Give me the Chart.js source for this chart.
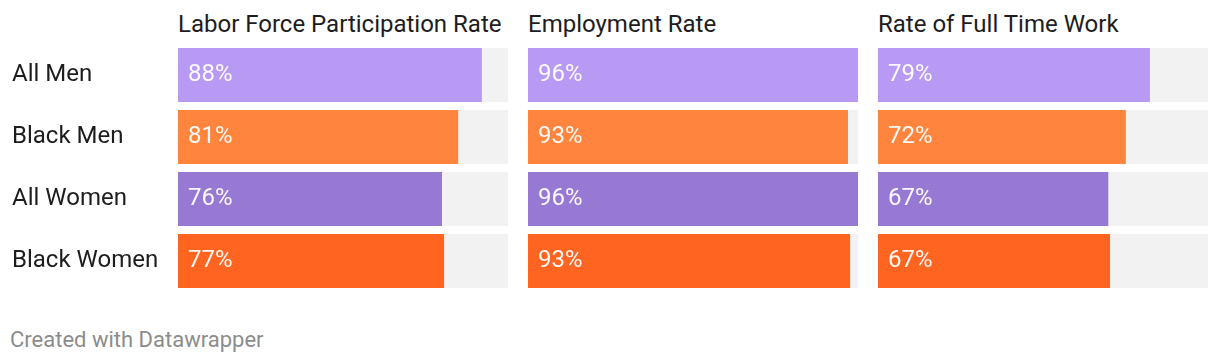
<!DOCTYPE html>
<html>
<head>
<meta charset="utf-8">
<script src="https://cdn.jsdelivr.net/npm/chart.js@4.4.1/dist/chart.umd.min.js"></script>
<style>
  html, body { margin: 0; padding: 0; background: #fff; }
  body { width: 1220px; height: 364px; position: relative; overflow: hidden; font-family: Roboto, "Noto Sans", sans-serif; }
  .title { position: absolute; top: 10px; font-size: 24px; line-height: 28px; color: #1d1d1d; white-space: nowrap; }
  .box { position: absolute; top: 44px; height: 248px; }
  .footer { position: absolute; left: 10px; top: 327px; font-size: 22px; line-height: 26px; color: #8c8c8c; white-space: nowrap; }
</style>
</head>
<body>
<div id="t0" class="title" style="left:178px"></div>
<div id="t1" class="title" style="left:528px"></div>
<div id="t2" class="title" style="left:878px"></div>
<div class="box" style="left:0px;width:508px"><canvas id="c0"></canvas></div>
<div class="box" style="left:528px;width:330px"><canvas id="c1"></canvas></div>
<div class="box" style="left:878px;width:330px"><canvas id="c2"></canvas></div>
<div class="footer">Created with Datawrapper</div>
<script>
const categories = ['All Men', 'Black Men', 'All Women', 'Black Women'];
const panelTitles = ['Labor Force Participation Rate', 'Employment Rate', 'Rate of Full Time Work'];
const laborForce = [88.4, 81.5, 76.8, 77.4];
const employment = [96.0, 93.1, 96.0, 93.7];
const fullTime = [79.1, 72.1, 67.0, 67.5];
const scaleMax = 96;
const track = [scaleMax, scaleMax, scaleMax, scaleMax];
const rowColors = ['#b89af5', '#ff853f', '#9779d3', '#ff6420'];
const trackColor = '#f2f2f2';
const FONT = 'Roboto, "Noto Sans", sans-serif';

const panels = [laborForce, employment, fullTime];

const valueLabels = {
  id: 'valueLabels',
  afterDatasetsDraw(chart) {
    const ctx = chart.ctx;
    const meta = chart.getDatasetMeta(1);
    const data = chart.data.datasets[1].data;
    ctx.save();
    ctx.font = '24px ' + FONT;
    ctx.fillStyle = 'rgba(255,255,255,0.95)';
    ctx.textAlign = 'left';
    ctx.textBaseline = 'middle';
    meta.data.forEach((bar, i) => {
      ctx.fillText(Math.floor(data[i]) + '%', bar.base + 10, bar.y);
    });
    ctx.restore();
  }
};

panels.forEach((vals, p) => {
  document.getElementById('t' + p).textContent = panelTitles[p];
  const first = p === 0;
  const yScale = {
    display: first,
    grid: { display: false },
    border: { display: false },
    ticks: {
      crossAlign: 'far',
      padding: 0,
      color: '#1d1d1d',
      font: { family: FONT, size: 24 }
    }
  };
  if (first) {
    yScale.afterFit = (s) => { s.width = 166; s.paddingTop = 0; s.paddingBottom = 0; };
  }
  new Chart(document.getElementById('c' + p), {
    type: 'bar',
    data: {
      labels: categories,
      datasets: [
        { data: track, backgroundColor: trackColor, order: 2, grouped: false,
          barPercentage: 1, categoryPercentage: 54 / 62 },
        { data: vals, backgroundColor: rowColors, order: 1, grouped: false,
          barPercentage: 1, categoryPercentage: 54 / 62 }
      ]
    },
    options: {
      indexAxis: 'y',
      responsive: true,
      maintainAspectRatio: false,
      animation: false,
      layout: { padding: { left: first ? 12 : 0, right: 0, top: 0, bottom: 0 } },
      plugins: { legend: { display: false }, tooltip: { enabled: false } },
      scales: {
        x: { display: false, min: 0, max: scaleMax },
        y: yScale
      }
    },
    plugins: [valueLabels]
  });
});
</script>
</body>
</html>
